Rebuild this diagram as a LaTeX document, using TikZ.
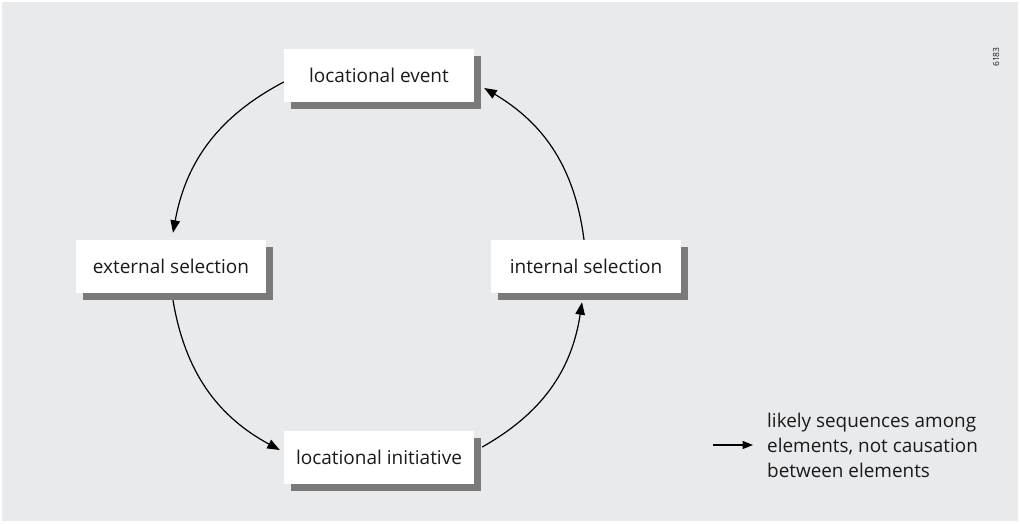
\documentclass[tikz,border=0pt]{standalone}
\usepackage{fontspec}
\setmainfont{Open Sans}
\usetikzlibrary{arrows.meta,shadows}
\definecolor{bggray}{HTML}{E9EAEC}
\definecolor{shgray}{HTML}{7A7A7A}
\definecolor{txt}{HTML}{1A1A1A}
\begin{document}
\begin{tikzpicture}[x=1pt,y=1pt,
  box/.style={fill=white, minimum width=190pt, minimum height=53pt, inner sep=0pt,
    text=txt, font=\fontsize{19}{22}\selectfont,
    general shadow={fill=shgray, shadow xshift=7pt, shadow yshift=-7pt}},
  flow/.style={line width=1.2pt, -{Triangle[length=12.5pt,width=9.5pt]}, bend right=26},
  legendtxt/.style={align=left, anchor=west, inner sep=0pt, text=txt,
    font=\fontsize{18.9}{25}\selectfont}
]
\useasboundingbox (0,0) rectangle (1020,-523);
\fill[white] (0,0) rectangle (1020,-523);
\fill[bggray] (2,-2) rectangle (1018,-521);
\node[box] (ev) at (379,-75.5) {locational event};
\node[box] (ext) at (171,-266.5) {external selection};
\node[box] (int) at (586,-266.5) {internal selection};
\node[box] (init) at (379,-457) {locational initiative};
\draw[flow] ([yshift=-6.5pt]ev.west) to ([shift={(2pt,7pt)}]ext.north);
\draw[flow] ([shift={(2pt,-7pt)}]ext.south) to ([shift={(-4pt,7pt)}]init.west);
\draw[flow] ([shift={(8pt,10pt)}]init.east) to ([shift={(-4pt,-9pt)}]int.south);
\draw[flow] ([shift={(-2pt,0pt)}]int.north) to ([shift={(10pt,-12.5pt)}]ev.east);
\node[legendtxt] (legend) at (767,-445) {likely sequences among\\elements, not causation\\between elements};
\coordinate (lstart) at (713,-445);
\draw[line width=1.2pt, -{Triangle[length=10.5pt,width=8pt]}] (lstart) -- ([xshift=-14pt]legend.west);
\node[rotate=90, font=\fontsize{8.5}{9}\selectfont, text=txt] (code) at (996,-57) {6183};
\end{tikzpicture}
\end{document}
